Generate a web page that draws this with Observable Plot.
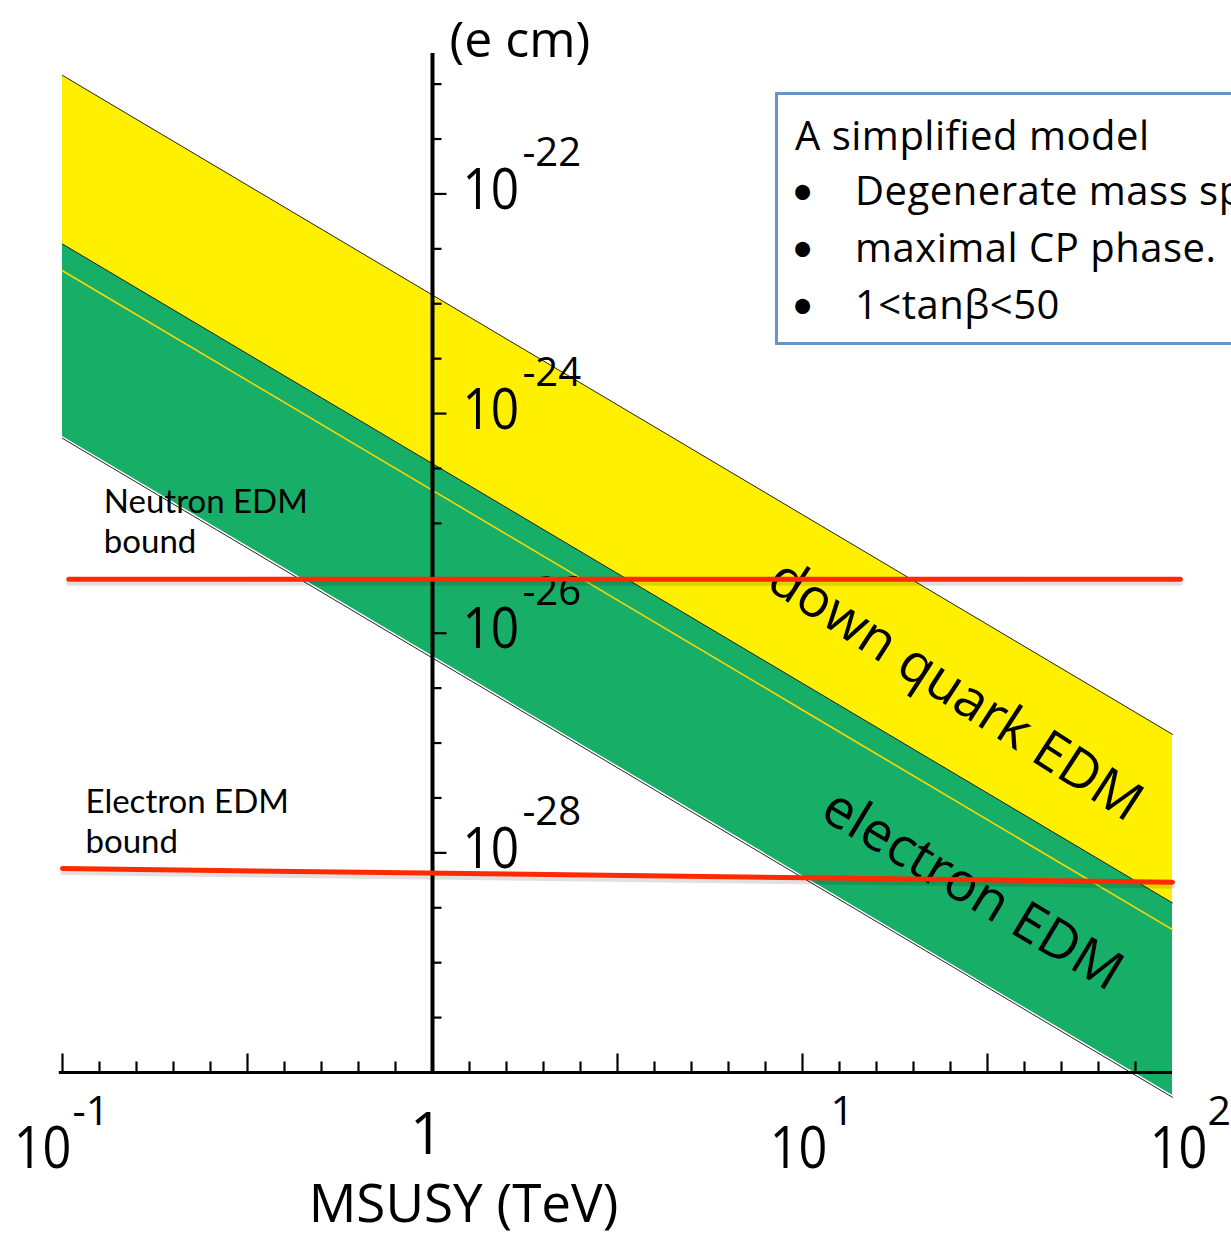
<!DOCTYPE html>
<html><head><meta charset="utf-8">
<script src="https://cdn.jsdelivr.net/npm/d3@7"></script>
<script src="https://cdn.jsdelivr.net/npm/@observablehq/plot@0.6"></script>
<style>
html,body{margin:0;padding:0;background:#fff;overflow:hidden;}
#wrap{position:relative;width:1231px;height:1237px;overflow:hidden;background:#fff;}
#wrap svg{position:absolute;left:0;top:0;}
</style></head><body><div id="wrap"></div>
<script>
// ---- data ----
const mass = [0.1, 1, 10, 100];                              // MSUSY (TeV)
const downQuarkUpper = [1.2e-21, 1.2e-23, 1.2e-25, 1.2e-27]; // e cm
const downQuarkLower = [3.5e-23, 3.5e-25, 3.5e-27, 3.5e-29];
const electronUpper  = [3.5e-23, 3.5e-25, 3.5e-27, 3.5e-29];
const electronInner  = [2.0e-23, 2.0e-25, 2.0e-27, 2.0e-29];
const electronLower  = [6.2e-25, 6.2e-27, 6.2e-29, 6.2e-31];

const neutronBoundMass = [0.104, 105];
const neutronBoundValue = [3.1e-26, 3.1e-26];
const electronBoundMass = [0.1, 100];
const electronBoundValue = [7.2e-29, 5.4e-29];

const xMajorTickExps = [-1, -0.5, 0, 0.5, 1, 1.5];
const xMinorTickExps = [-0.9,-0.8,-0.7,-0.6,-0.4,-0.3,-0.2,-0.1,0.1,0.2,0.3,0.4,0.6,0.7,0.8,0.9,1.1,1.2,1.3,1.4,1.6,1.7,1.8,1.9];
const yMajorTickExps = [-22, -24, -26, -28];
const yMinorTickExps = [-21,-21.5,-22.5,-23,-23.5,-24.5,-25,-25.5,-26.5,-27,-27.5,-28.5,-29,-29.5];

const xTickLabelValues = [0.1, 10, 100];
const xTickLabelExps = ["-1", "1", "2"];
const yTickLabelValues = [1e-22, 1e-24, 1e-26, 1e-28];
const yTickLabelExps = ["-22", "-24", "-26", "-28"];

const legendTitle = "A simplified model";
const legendItems = ["Degenerate mass spectrum", "maximal CP phase.", "1<tanβ<50"];

// ---- tables ----
const bands = mass.map((m, i) => ({m, qu: downQuarkUpper[i], ql: downQuarkLower[i], eu: electronUpper[i], ei: electronInner[i], el: electronLower[i]}));
const nBound = neutronBoundMass.map((m, i) => ({m, v: neutronBoundValue[i]}));
const eBound = electronBoundMass.map((m, i) => ({m, v: electronBoundValue[i]}));
const xLabels = xTickLabelValues.map((v, i) => ({v, exp: xTickLabelExps[i]}));
const yLabels = yTickLabelValues.map((v, i) => ({v, exp: yTickLabelExps[i]}));
const yTop = 1.9e-21, yBottom = 1e-30;

const upTick = {draw(ctx, size) { const r = Math.sqrt(size / Math.PI); ctx.moveTo(0, 0); ctx.lineTo(0, -r); }};
const rightTick = {draw(ctx, size) { const r = Math.sqrt(size / Math.PI); ctx.moveTo(0, 0); ctx.lineTo(r, 0); }};

const labelFont = '"Open Sans", sans-serif';
const noteFont = 'Lato, "Open Sans", sans-serif';
const GREEN = "#17ae67", YELLOW = "#fff000", RED = "#ff2a00";

// per-label horizontal offsets of the x tick labels ("10" centre, exponent start)
const xLabelDx = [[-20, 10], [-4, 28], [6, 35]];
const xLabelMarks = xLabels.flatMap((d, i) => [
  Plot.text([d], {x: "v", y: () => yBottom, text: () => "10", textAnchor: "middle", lineAnchor: "bottom", dx: xLabelDx[i][0], dy: 95, fontSize: 58, fontFamily: labelFont, fill: "black"}),
  Plot.text([d], {x: "v", y: () => yBottom, text: "exp", textAnchor: "start", lineAnchor: "bottom", dx: xLabelDx[i][1], dy: 52, fontSize: 41, fontFamily: labelFont, fill: "black"})
]);

const chart = Plot.plot({
  width: 1231, height: 1237,
  marginTop: 53, marginBottom: 165, marginLeft: 62, marginRight: 59,
  x: {type: "log", domain: [0.1, 100], axis: null},
  y: {type: "log", domain: [yBottom, yTop], axis: null},
  style: {background: "transparent", overflow: "visible"},
  marks: [
    Plot.areaY(bands, {x: "m", y1: "el", y2: "eu", fill: GREEN}),
    Plot.areaY(bands, {x: "m", y1: "ql", y2: "qu", fill: YELLOW}),
    Plot.line(bands, {x: "m", y: "ei", stroke: "#ffd800", strokeWidth: 1.6}),
    Plot.line(bands, {x: "m", y: "qu", stroke: "#222", strokeWidth: 1}),
    Plot.line(bands, {x: "m", y: "ql", stroke: "#222", strokeWidth: 1}),
    Plot.line(bands, {x: "m", y: "el", stroke: "#222", strokeWidth: 1, dy: 2}),
    // axes
    Plot.ruleY([yBottom], {x1: 0.098, x2: 100, stroke: "black", strokeWidth: 3}),
    Plot.ruleX([1], {y1: yBottom, y2: yTop, stroke: "black", strokeWidth: 4}),
    Plot.dot(xMinorTickExps, {x: d => 10 ** d, y: () => yBottom, symbol: upTick, r: 11, fill: "none", stroke: "black", strokeWidth: 2.2}),
    Plot.dot(xMajorTickExps, {x: d => 10 ** d, y: () => yBottom, symbol: upTick, r: 19, fill: "none", stroke: "black", strokeWidth: 2.2}),
    Plot.dot(yMinorTickExps, {x: () => 1, y: d => 10 ** d, symbol: rightTick, r: 9, fill: "none", stroke: "black", strokeWidth: 2.2}),
    Plot.dot(yMajorTickExps, {x: () => 1, y: d => 10 ** d, symbol: rightTick, r: 14, fill: "none", stroke: "black", strokeWidth: 2.2}),
    // tick labels
    ...xLabelMarks,
    Plot.text([1], {x: d => d, y: () => yBottom, text: () => "1", textAnchor: "middle", lineAnchor: "bottom", dx: -6, dy: 81, fontSize: 58, fontFamily: labelFont, fill: "black"}),
    Plot.text(yLabels, {x: () => 1, y: "v", text: () => "10", textAnchor: "start", lineAnchor: "bottom", dx: 30, dy: 15, fontSize: 57, fontFamily: labelFont, fill: "black"}),
    Plot.text(yLabels, {x: () => 1, y: "v", text: "exp", textAnchor: "start", lineAnchor: "bottom", dx: 90, dy: -28, fontSize: 40, fontFamily: labelFont, fill: "black"}),
    // axis titles
    Plot.text([1], {x: d => d, y: () => yTop, text: () => "(e cm)", textAnchor: "start", lineAnchor: "bottom", dx: 17, dy: 3, fontSize: 50, fontFamily: labelFont, fill: "black"}),
    Plot.text([1], {x: d => d, y: () => yBottom, text: () => "MSUSY (TeV)", textAnchor: "middle", lineAnchor: "bottom", dx: 31, dy: 149, fontSize: 53, fontFamily: labelFont, fill: "black"}),
    // band labels
    Plot.text([{m: 25.9, v: 3.0e-27}], {x: "m", y: "v", text: () => "down quark EDM", rotate: 33, fontSize: 54, fontFamily: labelFont, fill: "black"}),
    Plot.text([{m: 28.8, v: 4.6e-29}], {x: "m", y: "v", text: () => "electron EDM", rotate: 31, fontSize: 54, fontFamily: labelFont, fill: "black"}),
    // bound labels
    Plot.text(nBound.slice(0, 1), {x: "m", y: "v", text: () => "Neutron EDM\nbound", textAnchor: "start", lineAnchor: "bottom", lineHeight: 1.21, dx: 35, dy: -26, fontSize: 33, fontFamily: noteFont, fill: "black"}),
    Plot.text(eBound.slice(0, 1), {x: "m", y: "v", text: () => "Electron EDM\nbound", textAnchor: "start", lineAnchor: "bottom", lineHeight: 1.21, dx: 23, dy: -16, fontSize: 33, fontFamily: noteFont, fill: "black"}),
    // bound lines with soft shadow
    Plot.line(nBound, {x: "m", y: "v", stroke: "black", strokeOpacity: 0.12, strokeWidth: 5, dy: 4}),
    Plot.line(eBound, {x: "m", y: "v", stroke: "black", strokeOpacity: 0.12, strokeWidth: 5, dy: 4}),
    Plot.line(nBound, {x: "m", y: "v", stroke: RED, strokeWidth: 5}),
    Plot.line(eBound, {x: "m", y: "v", stroke: RED, strokeWidth: 5})
  ]
});
// the reference's mantissa "10" is set in a condensed face: compress horizontally about its anchor
chart.querySelectorAll("text").forEach(t => {
  if (t.textContent === "10") {
    const tr = t.getAttribute("transform");
    if (tr) t.setAttribute("transform", tr + " scale(0.87,1)");
  }
});
document.getElementById("wrap").appendChild(chart);

// legend box (overlay)
const leg = d3.create("svg").attr("width", 1231).attr("height", 1237).style("pointer-events", "none");
leg.append("rect").attr("x", 776.5).attr("y", 93.5).attr("width", 520).attr("height", 250)
  .attr("fill", "white").attr("stroke", "#6895c9").attr("stroke-width", 3);
leg.append("text").attr("x", 795).attr("y", 150).attr("font-family", labelFont).attr("font-size", 40)
  .attr("letter-spacing", 0.5).text(legendTitle);
legendItems.forEach((t, i) => {
  const y = 205 + i * 57;
  leg.append("text").attr("x", 791).attr("y", y).attr("font-family", noteFont).attr("font-size", 40).text("•");
  leg.append("text").attr("x", 855).attr("y", y).attr("font-family", labelFont).attr("font-size", 40)
    .attr("letter-spacing", 0.5).text(t);
});
document.getElementById("wrap").appendChild(leg.node());
</script>
</body></html>
